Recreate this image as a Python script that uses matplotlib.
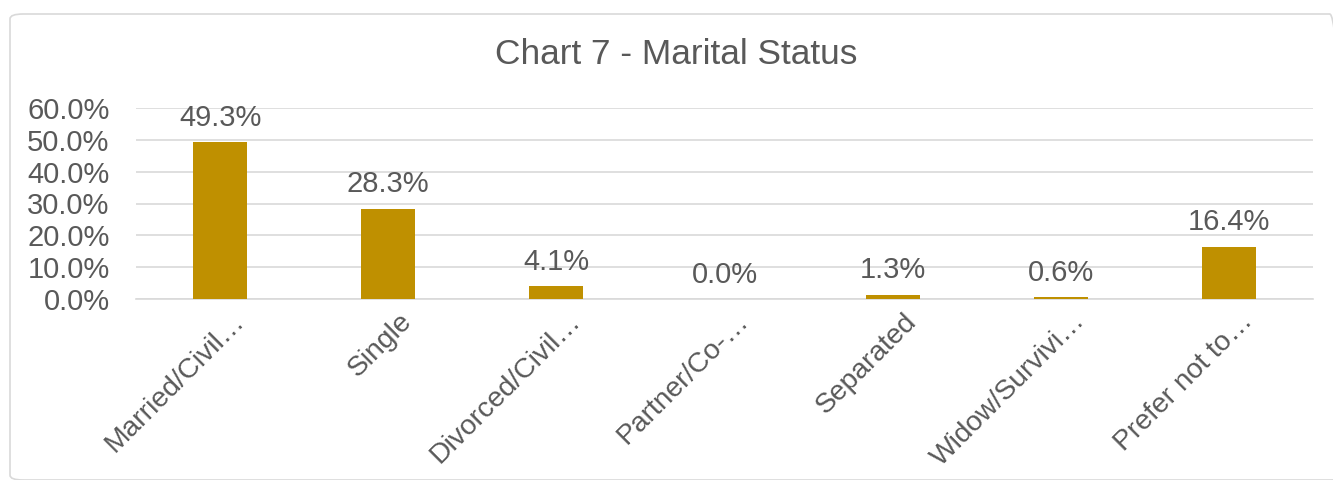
import matplotlib.pyplot as plt
from matplotlib.patches import FancyBboxPatch
from matplotlib.transforms import ScaledTranslation

plt.rcParams['font.family'] = ['Liberation Sans', 'DejaVu Sans']

# data
categories = ['Married/Civil…', 'Single', 'Divorced/Civil…', 'Partner/Co-…',
              'Separated', 'Widow/Survivi…', 'Prefer not to…']
values = [49.3, 28.3, 4.1, 0.0, 1.3, 0.6, 16.4]
yticks = [0, 10, 20, 30, 40, 50, 60]

text_col = '#595959'
bar_col = '#BF9000'
grid_col = '#D9D9D9'

fig = plt.figure(figsize=(13.33, 4.8), dpi=100)

# chart border
border = FancyBboxPatch((10 / 1333, 0.0), 1.0, 1 - 14 / 480,
                        boxstyle='round,pad=0,rounding_size=0.01',
                        transform=fig.transFigure, fill=False,
                        edgecolor=grid_col, linewidth=1.2)
fig.patches.append(border)

ax = fig.add_axes([136 / 1333, 1 - 299 / 480, (1313 - 136) / 1333, (299 - 108) / 480])

x = range(len(categories))
bars = ax.bar(x, values, width=0.32, color=bar_col, zorder=3)

for xi, v in zip(x, values):
    ax.annotate(f'{v:.1f}%', (xi, v), xytext=(0, 7.5), textcoords='offset points',
                ha='center', va='bottom', fontsize=21, color=text_col)

ax.set_xlim(-0.5, len(categories) - 0.5)
ax.set_ylim(0, 60)
ax.set_yticks(yticks)
ax.set_yticklabels([f'{t:.1f}%' for t in yticks])
ax.set_xticks(list(x))
ax.set_xticklabels(categories, rotation=45, ha='right', va='top',
                   rotation_mode='anchor')

ax.tick_params(axis='y', length=0, pad=19, labelsize=21, labelcolor=text_col)
ax.tick_params(axis='x', length=0, pad=8, labelsize=20.3, labelcolor=text_col)

# nudge category labels to the right like the original
shift = ScaledTranslation(11 / 100, 2 / 100, fig.dpi_scale_trans)
for lbl in ax.get_xticklabels():
    lbl.set_transform(lbl.get_transform() + shift)

ax.grid(axis='y', color=grid_col, linewidth=1.2, zorder=0)
for s in ['top', 'right', 'left']:
    ax.spines[s].set_visible(False)
ax.spines['bottom'].set_color(grid_col)
ax.spines['bottom'].set_linewidth(1.2)

fig.text(676 / 1333, 1 - 55 / 480, 'Chart 7 - Marital Status', ha='center', va='center',
         fontsize=25.4, color=text_col)

fig.savefig('out.png', dpi=100)
